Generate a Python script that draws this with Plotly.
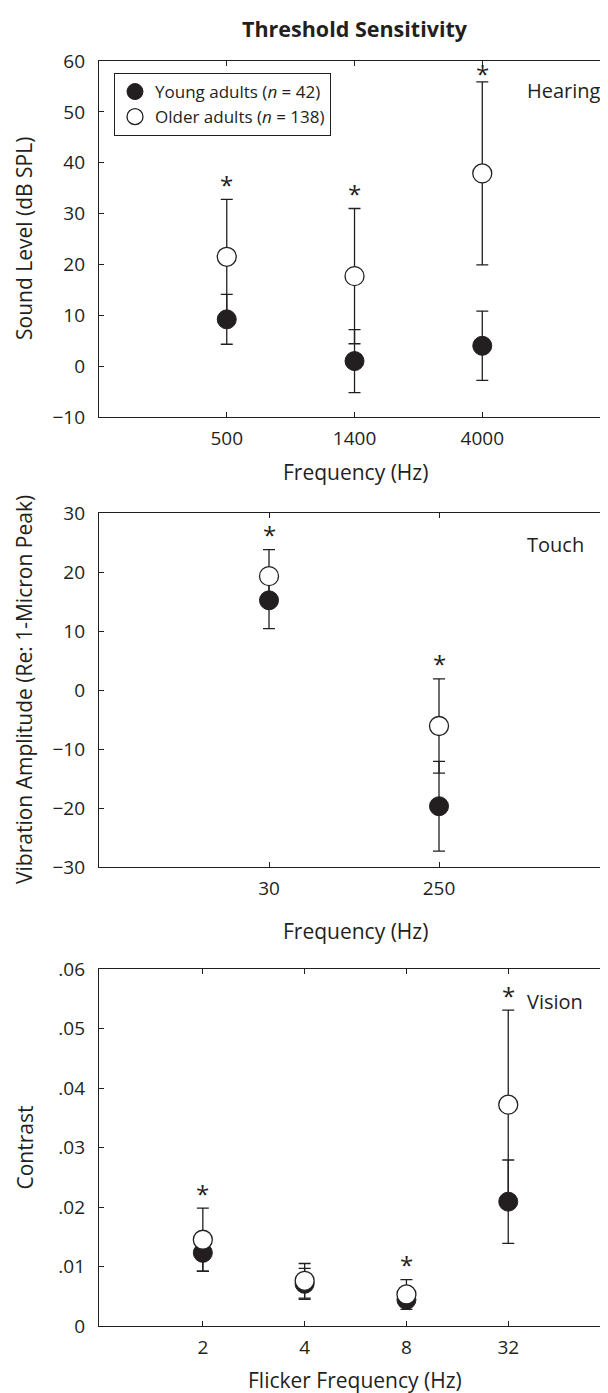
import plotly.graph_objects as go

# ---------------- data ----------------
hear_freq = ["500", "1400", "4000"]
hear_young = [9.2, 1.0, 4.0]
hear_young_sd = [4.9, 6.2, 6.8]
hear_old = [21.5, 17.7, 37.9]
hear_old_sd = [11.3, 13.3, 18.0]
hear_sig = [True, True, True]

touch_freq = ["30", "250"]
touch_young = [15.2, -19.7]
touch_young_sd = [4.8, 7.6]
touch_old = [19.3, -6.1]
touch_old_sd = [4.5, 8.0]
touch_sig = [True, True]

vis_freq = ["2", "4", "8", "32"]
vis_young = [0.0123, 0.0071, 0.0044, 0.0209]
vis_young_sd = [0.0031, 0.0026, 0.0010, 0.0070]
vis_old = [0.0145, 0.0076, 0.0053, 0.0372]
vis_old_sd = [0.0053, 0.0029, 0.0025, 0.0159]
vis_sig = [True, False, True, True]

hear_yticks = [-10, 0, 10, 20, 30, 40, 50, 60]
touch_yticks = [-30, -20, -10, 0, 10, 20, 30]
vis_yticks = [0, 0.01, 0.02, 0.03, 0.04, 0.05, 0.06]
vis_yticklabels = ["0", ".01", ".02", ".03", ".04", ".05", ".06"]

young_label = "Young adults (<i>n</i> = 42)"
old_label = "Older adults (<i>n</i> = 138)"

# ---------------- style ----------------
# the page body has an 8px margin, so the figure is laid out in page pixels
# and converted to figure pixels by subtracting the offset
OFF = 8
W, H = 608 - OFF, 1393 - OFF
INK = "#231f20"
FONT = "Open Sans"
LEFT = 99


def px_x(v):
    return (v - OFF) / W


def px_y(v):
    return 1 - (v - OFF) / H


def minus(v):
    return ("\u2212" + str(-v)) if v < 0 else str(v)


panels = [
    dict(freq=hear_freq, y=hear_young, ysd=hear_young_sd, o=hear_old, osd=hear_old_sd,
         sig=hear_sig, yr=[-10, 60], dom=(61, 417), xr=[0, 3.984], name="Hearing",
         ytitle="Sound Level (dB SPL)", xtitle="Frequency (Hz)", xt_y=472, lab_y=91,
         tv=hear_yticks, tt=[minus(v) for v in hear_yticks]),
    dict(freq=touch_freq, y=touch_young, ysd=touch_young_sd, o=touch_old, osd=touch_old_sd,
         sig=touch_sig, yr=[-30, 30], dom=(513, 867), xr=[0, 2.994], name="Touch",
         ytitle="Vibration Amplitude (Re: 1-Micron Peak)", xtitle="Frequency (Hz)", xt_y=931, lab_y=545,
         tv=touch_yticks, tt=[minus(v) for v in touch_yticks]),
    dict(freq=vis_freq, y=vis_young, ysd=vis_young_sd, o=vis_old, osd=vis_old_sd,
         sig=vis_sig, yr=[0, 0.06], dom=(969, 1326), xr=[-0.02, 4.98], name="Vision",
         ytitle="Contrast", xtitle="Flicker Frequency (Hz)", xt_y=1380, lab_y=1001,
         tv=vis_yticks, tt=vis_yticklabels),
]

fig = go.Figure()
annotations = []
layout = {}

for k, p in enumerate(panels):
    sfx = "" if k == 0 else str(k + 1)
    xa, ya = "x" + sfx, "y" + sfx
    xs = list(range(1, len(p["freq"]) + 1))
    fig.add_trace(go.Scatter(
        x=xs, y=p["y"], mode="markers", xaxis=xa, yaxis=ya,
        name=young_label, showlegend=(k == 0), legendrank=1,
        marker=dict(size=19, color=INK, line=dict(width=1, color=INK)),
        error_y=dict(type="data", array=p["ysd"], thickness=1.3, width=6, color=INK),
        hoverinfo="skip"))
    fig.add_trace(go.Scatter(
        x=xs, y=p["o"], mode="markers", xaxis=xa, yaxis=ya,
        name=old_label, showlegend=(k == 0), legendrank=2,
        marker=dict(size=19, color="white", line=dict(width=1.3, color=INK)),
        error_y=dict(type="data", array=p["osd"], thickness=1.3, width=6, color=INK),
        hoverinfo="skip"))

    top, bot = p["dom"]
    ppu = (bot - top) / (p["yr"][1] - p["yr"][0])
    layout["xaxis" + sfx] = dict(
        domain=[px_x(LEFT), 1], range=p["xr"], anchor=ya, automargin=False,
        tickmode="array", tickvals=xs, ticktext=p["freq"],
        showline=True, linecolor=INK, linewidth=1.3, mirror="ticks",
        ticks="inside", ticklen=5, tickwidth=1, tickcolor=INK,
        showgrid=False, zeroline=False, ticklabelstandoff=4,
        tickfont=dict(family=FONT, size=19, color=INK))
    layout["yaxis" + sfx] = dict(
        domain=[px_y(bot), px_y(top)], range=p["yr"], anchor=xa, automargin=False,
        tickmode="array", tickvals=p["tv"], ticktext=p["tt"],
        showline=True, linecolor=INK, linewidth=1.3,
        mirror=True if k == 2 else "ticks",
        ticks="inside", ticklen=5, tickwidth=1, tickcolor=INK,
        showgrid=False, zeroline=False, ticklabelstandoff=9,
        tickfont=dict(family=FONT, size=19, color=INK))

    # significance asterisks above the older-adult error bar
    for i, s in enumerate(p["sig"]):
        if not s:
            continue
        cap = p["o"][i] + p["osd"][i]
        room = (p["yr"][1] - cap) * ppu
        shift = min(17, room - 11)
        annotations.append(dict(
            x=xs[i], y=cap, xref=xa, yref=ya, text="*", showarrow=False,
            xanchor="center", yanchor="middle", yshift=shift - 2,
            font=dict(family=FONT, size=24, color=INK)))

    # panel label
    annotations.append(dict(
        x=px_x(525), y=px_y(p["lab_y"]), xref="paper", yref="paper", text=p["name"],
        showarrow=False, xanchor="left", yanchor="middle",
        font=dict(family=FONT, size=20, color=INK)))
    # x title
    annotations.append(dict(
        x=px_x(355), y=px_y(p["xt_y"]), xref="paper", yref="paper", text=p["xtitle"],
        showarrow=False, xanchor="center", yanchor="middle",
        font=dict(family=FONT, size=21, color=INK)))
    # y title
    annotations.append(dict(
        x=px_x(24), y=px_y((top + bot) / 2), xref="paper", yref="paper", text=p["ytitle"],
        showarrow=False, xanchor="center", yanchor="middle", textangle=-90,
        font=dict(family=FONT, size=21, color=INK)))

# right-side tick marks of the vision panel (spaced like the hearing scale)
fig.add_trace(go.Scatter(x=[None], y=[None], xaxis="x3", yaxis="y4",
                         showlegend=False, hoverinfo="skip"))
layout["yaxis4"] = dict(
    overlaying="y3", side="right", anchor="x3", automargin=False,
    range=[hear_yticks[0], hear_yticks[-1]],
    tickmode="array", tickvals=hear_yticks, showticklabels=False,
    ticks="inside", ticklen=5, tickwidth=1, tickcolor=INK,
    showline=False, showgrid=False, zeroline=False)

# title
annotations.append(dict(
    x=px_x(355), y=px_y(29), xref="paper", yref="paper", text="<b>Threshold Sensitivity</b>",
    showarrow=False, xanchor="center", yanchor="middle",
    font=dict(family=FONT, size=21.5, color=INK)))

fig.update_layout(
    width=W, height=H,
    margin=dict(l=0, r=0, t=0, b=0, autoexpand=False),
    paper_bgcolor="white", plot_bgcolor="white",
    font=dict(family=FONT, size=19, color=INK),
    showlegend=True,
    legend=dict(x=px_x(114), y=px_y(73), xanchor="left", yanchor="top",
                bordercolor=INK, borderwidth=1, bgcolor="white",
                font=dict(family=FONT, size=17, color=INK),
                tracegroupgap=0, itemclick=False, itemdoubleclick=False),
    annotations=annotations,
    **layout)

fig.write_html("out.html")
